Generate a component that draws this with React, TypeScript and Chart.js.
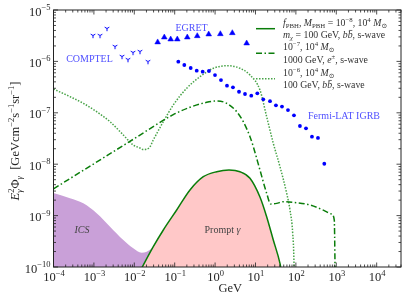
import React, { useEffect, useRef } from "react";
import { Chart, registerables } from "chart.js";
Chart.register(...registerables);

const FONT = "'Liberation Serif', 'DejaVu Serif', serif";

const X_MIN = 1e-4;
const X_MAX = 4e4;
const Y_MIN = 1e-10;
const Y_MAX = 1e-5;
const xDecades = [-4, -3, -2, -1, 0, 1, 2, 3, 4];
const yDecades = [-10, -9, -8, -7, -6, -5];

// COMPTEL
const comptelE = [9.5e-4, 1.42e-3, 2.11e-3, 3.33e-3, 4.97e-3, 6.98e-3, 9.29e-3, 1.38e-2, 2.18e-2];
const comptelFlux = [3.12e-6, 3.12e-6, 4.27e-6, 1.91e-6, 1.22e-6, 1.06e-6, 1.46e-6, 1.52e-6, 9.7e-7];

// EGRET
const egretE = [0.0379, 0.0553, 0.0796, 0.116, 0.205, 0.362, 0.695, 1.35, 2.67, 6.05];
const egretFlux = [2.36e-6, 2.94e-6, 2.69e-6, 2.69e-6, 2.94e-6, 3.12e-6, 3.37e-6, 3.41e-6, 3.57e-6, 2.25e-6];

// Fermi-LAT IGRB
const fermiE = [0.123, 0.173, 0.249, 0.351, 0.493, 0.706, 0.995, 1.4, 1.97, 2.77, 3.91, 5.5, 7.87, 11.1, 15.6, 22.9, 32.1, 45.3, 63.7, 89.7, 126, 178, 250, 352, 505];
const fermiFlux = [9.86e-7, 8.51e-7, 7.44e-7, 6.6e-7, 6.31e-7, 6.5e-7, 5.43e-7, 4.34e-7, 3.37e-7, 3.13e-7, 2.57e-7, 2.32e-7, 2.15e-7, 2.39e-7, 1.83e-7, 1.68e-7, 1.4e-7, 1.32e-7, 1.13e-7, 8.93e-8, 5.53e-8, 4.99e-8, 3.43e-8, 3.24e-8, 1.02e-8];

// ICS (filled)
const icsE = [1e-4, 2.56e-4, 5.47e-4, 1.17e-3, 2.51e-3, 5.35e-3, 9.44e-3, 1.52e-2, 2.03e-2, 2.95e-2, 4.32e-2, 7e-2, 0.2, 1, 5, 15, 30];
const icsFlux = [2.75e-9, 2.17e-9, 1.73e-9, 1.11e-9, 6.08e-10, 3.35e-10, 2.31e-10, 1.9e-10, 1.99e-10, 2.48e-10, 3.88e-10, 5e-10, 6e-10, 5e-10, 3e-10, 1.5e-10, 8e-11];

// Prompt gamma (solid, 1e-8, 100 GeV bb)
const promptE = [0.0147, 0.0295, 0.0523, 0.112, 0.239, 0.511, 1.096, 2.21, 4.13, 7.31, 12.9, 18.9, 27.6, 40.4, 43];
const promptFlux = [9e-11, 2.48e-10, 5.25e-10, 1.285e-9, 3.15e-9, 5.71e-9, 7.15e-9, 7.71e-9, 7.15e-9, 5.32e-9, 2.3e-9, 9.52e-10, 3.35e-10, 1.18e-10, 9e-11];

// 1e-7, 1000 GeV e+e- (dash-dot)
const eeE = [1e-4, 1e-3, 1e-2, 0.0923, 0.239, 0.619, 1.096, 1.94, 3.43, 4.99, 7.31, 8.83, 12.9, 18.9, 23.8, 33.5, 48.8, 104.7, 223, 477, 769, 892, 929, 940];
const eeFlux = [3.32e-9, 1.02e-8, 3.14e-8, 9.2e-8, 1.28e-7, 1.6e-7, 1.7e-7, 1.53e-7, 1.05e-7, 6.71e-8, 3.43e-8, 2.19e-8, 7.71e-9, 2.72e-9, 1.68e-9, 1.73e-9, 1.86e-9, 1.78e-9, 1.61e-9, 1.28e-9, 1.07e-9, 8.2e-10, 1.18e-10, 5e-11];

// 1e-6, 100 GeV bb (dotted)
const bbE = [1e-4, 2.56e-4, 5.47e-4, 1.17e-3, 2.51e-3, 4.88e-3, 9.44e-3, 0.0138, 0.0167, 0.0235, 0.0295, 0.0523, 0.0923, 0.198, 0.423, 0.902, 2.12, 4.13, 7.31, 12.9, 18.9, 27.6, 40.4, 59.2, 71.5, 83.4, 89.8, 91.2];
const bbFlux = [2.9e-7, 2.06e-7, 1.53e-7, 1.05e-7, 6.71e-8, 3.99e-8, 2.36e-8, 2.07e-8, 1.93e-8, 2.09e-8, 2.96e-8, 6.71e-8, 1.42e-7, 3.0e-7, 5.04e-7, 7.34e-7, 8.24e-7, 7.34e-7, 5.43e-7, 2.78e-7, 8.4e-8, 2.55e-8, 8.93e-9, 2.72e-9, 1.28e-9, 4.53e-10, 1.18e-10, 5e-11];

const GREEN = "#0a7d0a";
const GREEN_DOT = "rgba(0,128,0,0.72)";
const DATA_BLUE = "#0000ff";
const LABEL_BLUE = "#5050ff";
const TEXT = "#262626";

type Seg = { t: string; s: number; it?: boolean; dy?: number; stack?: boolean; bar?: boolean };

function runSegs(ctx: CanvasRenderingContext2D, segs: Seg[], x: number, y: number, draw: boolean) {
  let cx = x;
  let prevStart = x;
  let prevEnd = x;
  for (const g of segs) {
    ctx.font = `${g.it ? "italic " : ""}${g.s}px ${FONT}`;
    const w = ctx.measureText(g.t).width;
    const start = g.stack ? prevStart : cx;
    if (draw) {
      ctx.fillText(g.t, start, y + (g.dy || 0));
      if (g.bar) {
        const by = y + (g.dy || 0) - g.s * 0.8;
        ctx.save();
        ctx.strokeStyle = ctx.fillStyle as string;
        ctx.lineWidth = 0.7;
        ctx.beginPath();
        ctx.moveTo(start + w * 0.25, by);
        ctx.lineTo(start + w * 0.95, by);
        ctx.stroke();
        ctx.restore();
      }
    }
    const end = start + w;
    if (g.stack) {
      cx = Math.max(prevEnd, end);
      prevEnd = cx;
    } else {
      prevStart = start;
      prevEnd = end;
      cx = end;
    }
  }
  return cx - x;
}

function drawSegs(ctx: CanvasRenderingContext2D, segs: Seg[], x: number, y: number, align: "left" | "center" | "right") {
  ctx.textAlign = "left";
  ctx.textBaseline = "alphabetic";
  const w = runSegs(ctx, segs, 0, 0, false);
  let sx = x;
  if (align === "center") sx = x - w / 2;
  if (align === "right") sx = x - w;
  runSegs(ctx, segs, sx, y, true);
}

function expStr(k: number) {
  return k < 0 ? "\u2212" + String(-k) : String(k);
}

function makeTri(color: string) {
  const c = document.createElement("canvas");
  const size = 8;
  c.width = size;
  c.height = size;
  const g = c.getContext("2d")!;
  const cx = size / 2;
  const cy = size / 2 - 0.5;
  const r = 2.7;
  g.strokeStyle = color;
  g.lineWidth = 1;
  g.beginPath();
  g.moveTo(cx, cy);
  g.lineTo(cx, cy + r);
  g.moveTo(cx, cy);
  g.lineTo(cx - r * 0.866, cy - r * 0.5);
  g.moveTo(cx, cy);
  g.lineTo(cx + r * 0.866, cy - r * 0.5);
  g.stroke();
  return c;
}

const pts = (xs: number[], ys: number[]) => xs.map((x, i) => ({ x, y: ys[i] }));

const decorPlugin = {
  id: "decor",
  afterDraw(chart: any) {
    const { ctx, chartArea: a, scales } = chart;
    const xs = scales.x;
    const ys = scales.y;
    ctx.save();

    // ticks
    ctx.strokeStyle = "#222";
    ctx.lineWidth = 0.8;
    ctx.beginPath();
    for (let k = -4; k <= 4; k++) {
      for (let m = 1; m <= 9; m++) {
        const v = m * Math.pow(10, k);
        if (v < X_MIN || v > X_MAX) continue;
        const px = xs.getPixelForValue(v);
        const len = m === 1 ? 4.5 : 2.5;
        ctx.moveTo(px, a.bottom);
        ctx.lineTo(px, a.bottom - len);
        ctx.moveTo(px, a.top);
        ctx.lineTo(px, a.top + len);
      }
    }
    for (let k = -10; k <= -5; k++) {
      for (let m = 1; m <= 9; m++) {
        const v = m * Math.pow(10, k);
        if (v < Y_MIN * 0.999 || v > Y_MAX * 1.001) continue;
        const py = ys.getPixelForValue(v);
        const len = m === 1 ? 4.5 : 2.5;
        ctx.moveTo(a.left, py);
        ctx.lineTo(a.left + len, py);
        ctx.moveTo(a.right, py);
        ctx.lineTo(a.right - len, py);
      }
    }
    ctx.stroke();

    // frame
    ctx.strokeStyle = "#222";
    ctx.lineWidth = 1;
    ctx.strokeRect(a.left, a.top, a.right - a.left, a.bottom - a.top);

    // tick labels
    ctx.fillStyle = TEXT;
    for (const k of xDecades) {
      const px = xs.getPixelForValue(Math.pow(10, k));
      drawSegs(ctx, [{ t: "10", s: 12.5 }, { t: expStr(k), s: 8.5, dy: -5.5 }], px + 0.5, a.bottom + 14, "center");
    }
    for (const k of yDecades) {
      const py = ys.getPixelForValue(Math.pow(10, k));
      drawSegs(ctx, [{ t: "10", s: 12.5 }, { t: expStr(k), s: 8.5, dy: -5.5 }], a.left - 3, py + 5.5, "right");
    }

    // axis titles
    drawSegs(ctx, [{ t: "GeV", s: 12.5 }], (a.left + a.right) / 2 + 3, 292, "center");
    ctx.save();
    ctx.translate(19, 141);
    ctx.rotate(-Math.PI / 2);
    drawSegs(
      ctx,
      [
        { t: "E", s: 12.5, it: true },
        { t: "2", s: 8.5, dy: -5.5 },
        { t: "\u03b3", s: 8.5, it: true, dy: 3, stack: true },
        { t: "\u03a6", s: 12.5 },
        { t: "\u03b3", s: 8.5, it: true, dy: 3 },
        { t: "  [GeVcm", s: 12.5 },
        { t: "\u22122", s: 8.5, dy: -5.5 },
        { t: "s", s: 12.5 },
        { t: "\u22121", s: 8.5, dy: -5.5 },
        { t: "sr", s: 12.5 },
        { t: "\u22121", s: 8.5, dy: -5.5 },
        { t: "]", s: 12.5 },
      ],
      0,
      0,
      "center"
    );
    ctx.restore();

    // annotations
    ctx.fillStyle = LABEL_BLUE;
    drawSegs(ctx, [{ t: "COMPTEL", s: 10 }], 89.5, 61.8, "center");
    drawSegs(ctx, [{ t: "EGRET", s: 10 }], 191.5, 30.8, "center");
    drawSegs(ctx, [{ t: "Fermi-LAT IGRB", s: 10 }], 344, 119.2, "center");
    ctx.fillStyle = "#444";
    drawSegs(ctx, [{ t: "ICS", s: 10, it: true }], 82, 232.5, "center");
    drawSegs(ctx, [{ t: "Prompt ", s: 10 }, { t: "\u03b3", s: 10, it: true }], 222.5, 233.3, "center");

    // legend
    const lx0 = 256;
    const lx1 = 275;
    const tx = 283;
    const samples = [
      { y: 28.7, color: GREEN, dash: [] as number[] },
      { y: 53.3, color: GREEN, dash: [6, 2.5, 1.5, 2.5] },
      { y: 78.7, color: GREEN_DOT, dash: [1.5, 1.5] },
    ];
    for (const s of samples) {
      ctx.save();
      ctx.strokeStyle = s.color;
      ctx.lineWidth = 1.5;
      ctx.setLineDash(s.dash);
      ctx.beginPath();
      ctx.moveTo(lx0, s.y);
      ctx.lineTo(lx1, s.y);
      ctx.stroke();
      ctx.restore();
    }
    const fs = 9.8;
    const sub = 6.8;
    const msun: Seg[] = [{ t: "M", s: fs, it: true }, { t: "\u2299", s: sub, dy: 2 }];
    const bbar: Seg[] = [{ t: "b", s: fs, it: true }, { t: "b", s: fs, it: true, bar: true }];
    const lines: Seg[][] = [
      [
        { t: "f", s: fs, it: true },
        { t: "PBH", s: sub, dy: 2 },
        { t: ", ", s: fs },
        { t: "M", s: fs, it: true },
        { t: "PBH", s: sub, dy: 2 },
        { t: " = 10", s: fs },
        { t: "\u22128", s: sub, dy: -4 },
        { t: ", 10", s: fs },
        { t: "4", s: sub, dy: -4 },
        { t: " ", s: fs },
        ...msun,
      ],
      [
        { t: "m", s: fs, it: true },
        { t: "\u03c7", s: sub, it: true, dy: 2 },
        { t: " = 100 GeV, ", s: fs },
        ...bbar,
        { t: ", s-wave", s: fs },
      ],
      [{ t: "10", s: fs }, { t: "\u22127", s: sub, dy: -4 }, { t: ", 10", s: fs }, { t: "4", s: sub, dy: -4 }, { t: " ", s: fs }, ...msun],
      [{ t: "1000 GeV, ", s: fs }, { t: "e", s: fs, it: true }, { t: "\u00b1", s: sub, dy: -4 }, { t: ", s-wave", s: fs }],
      [{ t: "10", s: fs }, { t: "\u22126", s: sub, dy: -4 }, { t: ", 10", s: fs }, { t: "4", s: sub, dy: -4 }, { t: " ", s: fs }, ...msun],
      [{ t: "100 GeV, ", s: fs }, ...bbar, { t: ", s-wave", s: fs }],
    ];
    const centers = [22.5, 35, 47, 59.5, 72.5, 85];
    ctx.fillStyle = "#333";
    lines.forEach((segs, i) => drawSegs(ctx, segs, tx, centers[i] + 3.3, "left"));

    ctx.restore();
  },
};

export default function App() {
  const ref = useRef<HTMLCanvasElement | null>(null);
  useEffect(() => {
    if (!ref.current) return;
    const tri = makeTri(DATA_BLUE);
    const chart = new Chart(ref.current, {
      type: "scatter",
      data: {
        datasets: [
          {
            label: "ICS",
            data: pts(icsE, icsFlux),
            showLine: true,
            fill: "start",
            backgroundColor: "#c9a0d8",
            borderColor: "rgba(0,0,0,0)",
            borderWidth: 0,
            pointRadius: 0,
            cubicInterpolationMode: "monotone",
            order: 10,
          },
          {
            label: "Prompt",
            data: pts(promptE, promptFlux),
            showLine: true,
            fill: "start",
            backgroundColor: "#ffc8c8",
            borderColor: GREEN,
            borderWidth: 1.5,
            pointRadius: 0,
            cubicInterpolationMode: "monotone",
            order: 8,
          },
          {
            label: "ee",
            data: pts(eeE, eeFlux),
            showLine: true,
            fill: false,
            borderColor: GREEN,
            borderWidth: 1.5,
            borderDash: [6, 2.5, 1.5, 2.5],
            pointRadius: 0,
            cubicInterpolationMode: "monotone",
            order: 5,
          },
          {
            label: "bb",
            data: pts(bbE, bbFlux),
            showLine: true,
            fill: false,
            borderColor: GREEN_DOT,
            borderWidth: 1.5,
            borderDash: [1.5, 1.5],
            pointRadius: 0,
            cubicInterpolationMode: "monotone",
            order: 5,
          },
          {
            label: "COMPTEL",
            data: pts(comptelE, comptelFlux),
            showLine: false,
            pointStyle: tri as any,
            pointRadius: 4,
            order: 1,
          },
          {
            label: "EGRET",
            data: pts(egretE, egretFlux),
            showLine: false,
            pointStyle: "triangle",
            pointRadius: 3.3,
            backgroundColor: DATA_BLUE,
            borderColor: DATA_BLUE,
            borderWidth: 0.5,
            order: 1,
          },
          {
            label: "Fermi",
            data: pts(fermiE, fermiFlux),
            showLine: false,
            pointStyle: "circle",
            pointRadius: 1.9,
            backgroundColor: DATA_BLUE,
            borderColor: DATA_BLUE,
            borderWidth: 0,
            order: 1,
          },
        ],
      },
      options: {
        animation: false,
        responsive: false,
        maintainAspectRatio: false,
        events: [],
        layout: { padding: { left: 53.5, right: 6, top: 10, bottom: 35 } },
        scales: {
          x: { type: "logarithmic", min: X_MIN, max: X_MAX, display: false },
          y: { type: "logarithmic", min: Y_MIN, max: Y_MAX, display: false },
        },
        plugins: { legend: { display: false }, tooltip: { enabled: false } },
      },
      plugins: [decorPlugin],
    });
    return () => chart.destroy();
  }, []);
  return (
    <div style={{ position: "fixed", left: 0, top: 0, width: 407, height: 302, background: "#fff" }}>
      <canvas ref={ref} width={407} height={302} style={{ width: 407, height: 302, display: "block" }} />
    </div>
  );
}
